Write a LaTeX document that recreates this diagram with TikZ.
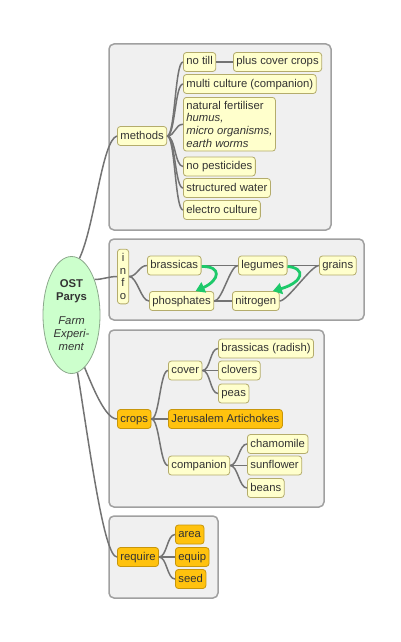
\documentclass[tikz,border=0pt]{standalone}
\usepackage{fontspec}
\setmainfont{Liberation Sans}
\usetikzlibrary{arrows.meta,shapes.geometric}
\definecolor{nodefill}{HTML}{FFFFCC}
\definecolor{nodeline}{HTML}{B4AC6C}
\definecolor{orfill}{HTML}{FFC20E}
\definecolor{orline}{HTML}{C8960A}
\definecolor{grpfill}{HTML}{F0F0F0}
\definecolor{grpline}{HTML}{A0A0A0}
\definecolor{edgec}{HTML}{737373}
\definecolor{greenc}{HTML}{1DC96A}
\definecolor{rootfill}{HTML}{CCFFCC}
\definecolor{rootline}{HTML}{8CA88C}
\definecolor{txt}{HTML}{333333}
\begin{document}
\begin{tikzpicture}[x=1pt,y=-1pt,
  font=\fontsize{11.3}{12.8}\selectfont, text=txt,
  boxbase/.style={draw=nodeline, fill=nodefill, rounded corners=3pt, line width=0.8pt, inner xsep=3pt, inner ysep=4pt},
  leaf/.style={boxbase, anchor=west, text height=8.5pt, text depth=2.5pt},
  hotleaf/.style={leaf, draw=orline, fill=orfill},
  grp/.style={draw=grpline, fill=grpfill, line width=1.5pt, rounded corners=5pt},
  conn/.style={draw=edgec, line width=1.5pt},
  link/.style={to path={.. controls ([xshift=8pt]\tikztostart) and ([xshift=-8pt]\tikztotarget) .. (\tikztotarget)}},
  garrow/.style={draw=greenc, line width=2.8pt, -{Triangle[length=9pt,width=11pt]}}]
\useasboundingbox (0,0) rectangle (400,642);

% group boxes
\draw[grp] (109,44) rectangle (331,230);
\draw[grp] (109,239) rectangle (364,320);
\draw[grp] (109,330) rectangle (324,507);
\draw[grp] (109,516) rectangle (218,598);

% root
\node[ellipse, draw=rootline, fill=rootfill, line width=0.8pt, minimum width=57pt, minimum height=117pt, inner sep=0pt, align=center] (root) at (71.5,315)
  {\textbf{OST}\\\textbf{Parys}\\[12pt]\textit{Farm}\\\textit{Experi-}\\\textit{ment}};

% methods
\node[leaf] (methods) at (117,136) {methods};
\node[leaf] (notill) at (183,62) {no till};
\node[leaf] (pluscover) at (233,62) {plus cover crops};
\node[leaf] (multi) at (183,84) {multi culture (companion)};
\node[boxbase, anchor=north west, align=left, inner ysep=3.5pt] (fert) at (183,97)
  {natural fertiliser\\\textit{humus,}\\\textit{micro organisms,}\\\textit{earth worms}};
\node[leaf] (nopest) at (183,166.5) {no pesticides};
\node[leaf] (water) at (183,188) {structured water};
\node[leaf] (electro) at (183,210) {electro culture};

% info
\node[boxbase, anchor=west, align=center, inner xsep=2.5pt] (info) at (117,276.5) {i\\n\\f\\o};
\node[leaf] (brass) at (147,265.5) {brassicas};
\node[leaf] (phos) at (149,301) {phosphates};
\node[leaf] (leg) at (238,265.5) {legumes};
\node[leaf] (nitro) at (232,301) {nitrogen};
\node[leaf] (grains) at (319,265.5) {grains};

% crops
\node[hotleaf] (crops) at (117,419) {crops};
\node[leaf] (cover) at (168,370.5) {cover};
\node[leaf] (radish) at (218,348.5) {brassicas (radish)};
\node[leaf] (clovers) at (218,370.5) {clovers};
\node[leaf] (peas) at (218,393.5) {peas};
\node[hotleaf] (jerus) at (168,419) {Jerusalem Artichokes};
\node[leaf] (comp) at (168,465.5) {companion};
\node[leaf] (chamo) at (247,444) {chamomile};
\node[leaf] (sunf) at (247,465.5) {sunflower};
\node[leaf] (beans) at (247,488) {beans};

% require
\node[hotleaf] (req) at (117,557) {require};
\node[hotleaf] (area) at (175,534.5) {area};
\node[hotleaf] (equip) at (175,557) {equip};
\node[hotleaf] (seed) at (175,579) {seed};

% root connectors
\draw[conn] (root.82) .. controls (95,225) and (102,140) .. (methods.west);
\draw[conn] (root.57) to[link] (info.west);
\draw[conn] (root.-76) .. controls (92,385) and (105,419) .. (crops.west);
\draw[conn] (root.-84) .. controls (90,450) and (104,557) .. (req.west);

% methods connectors
\foreach \c in {notill,multi,fert,nopest,water,electro}
  \draw[conn] (methods.east) to[link] (\c.west);
\draw[conn] (notill.east) -- (pluscover.west);

% info connectors
\draw[conn] (info.east) to[link] (brass.west);
\draw[conn] (info.east) to[link] (phos.west);
\draw[conn] (brass.east) -- (leg.west);
\draw[conn] (phos.east) to[link] (leg.west);
\draw[conn] (phos.east) -- (nitro.west);
\draw[conn] (leg.east) -- (grains.west);
\draw[conn] (nitro.east) to[link] (grains.west);

% green arrows
\draw[garrow] ([yshift=-1pt]brass.east) .. controls (222,266) and (220,280) .. ([xshift=14pt]phos.north);
\draw[garrow] ([yshift=-1pt]leg.east) .. controls (306,268) and (304,282) .. ([xshift=17pt]nitro.north);

% crops connectors
\foreach \c in {cover,jerus,comp}
  \draw[conn] (crops.east) to[link] (\c.west);
\foreach \c in {radish,clovers,peas}
  \draw[conn] (cover.east) to[link] (\c.west);
\foreach \c in {chamo,sunf,beans}
  \draw[conn] (comp.east) to[link] (\c.west);

% require connectors
\foreach \c in {area,equip,seed}
  \draw[conn] (req.east) to[link] (\c.west);
\end{tikzpicture}
\end{document}
